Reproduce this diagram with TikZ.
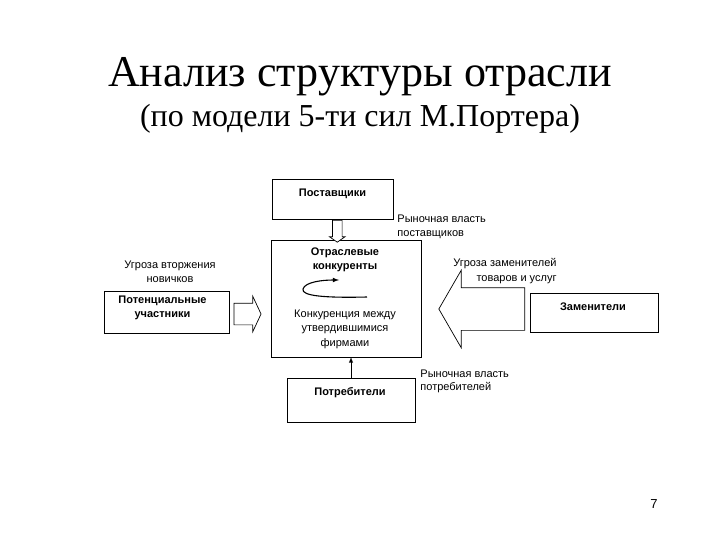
\documentclass[tikz,border=0pt]{standalone}
\usepackage{fontspec}
\setmainfont{Liberation Serif}
\setsansfont{Liberation Sans}
\usetikzlibrary{arrows,shapes.arrows,calc}
\newcommand\diagfont{\sffamily\fontsize{11}{14.5}\selectfont}

\begin{document}
\begin{tikzpicture}[x=1pt,y=-1pt,>=latex,line width=0.9pt,font=\diagfont,
        box/.style={draw=black, anchor=north west, inner sep=0pt, outer sep=0pt},
        hollow/.style={draw=black, single arrow, fill=white, outer sep=0pt, line width=0.7pt},
        txt/.style={inner sep=0pt, anchor=north, align=center},
        boldtxt/.style={txt, font=\diagfont\bfseries}]
        \useasboundingbox (0,0) rectangle (720,540);
        \node[anchor=base, font=\rmfamily\fontsize{44}{48}\selectfont] (title) at (360,87) {Анализ структуры отрасли};
        \node[anchor=base, font=\rmfamily\fontsize{32}{36}\selectfont] (subtitle) at (360,127) {(по модели 5-ти сил М.Портера)};
        % boxes
        \node[box, minimum width=121pt, minimum height=40pt] (supp) at (272,179) {};
        \node[box, minimum width=150pt, minimum height=117pt] (comp) at (271,240) {};
        \node[box, minimum width=125pt, minimum height=42pt] (pot) at (104,291) {};
        \node[box, minimum width=128pt, minimum height=39pt] (subst) at (530,293) {};
        \node[box, minimum width=128pt, minimum height=44pt] (cons) at (287,378) {};
        % texts
        \node[boldtxt] (supptext) at ($(supp.north)+(0,9)$) {Поставщики};
        \node[boldtxt] (comptext) at ($(comp.north)+(-1,7)$) {Отраслевые\\конкуренты};
        \node[txt] (rivalry) at ($(comp.south)+(-1,-48)$) {Конкуренция между\\утвердившимися\\фирмами};
        \node[boldtxt] (pottext) at ($(pot.north)+(-4,4)$) {Потенциальные\\участники};
        \node[txt] (entry) at ($(pot.north)+(3.5,-31)$) {Угроза вторжения\\новичков};
        \node[boldtxt] (substtext) at ($(subst.north)+(-1,9)$) {Заменители};
        \node[boldtxt] (constext) at ($(cons.north)+(-1,9)$) {Потребители};
        \node[txt, anchor=north west, align=left] (suppower) at ($(supp.south east)+(4,-5)$) {Рыночная власть\\поставщиков};
        \node[txt, anchor=north east, align=right] (threat) at ($(subst.north west)+(27,-35)$) {Угроза заменителей\\товаров и услуг};
        \node[txt, anchor=north west, align=left, font=\sffamily\fontsize{11}{13.5}\selectfont] (conspower) at ($(cons.north east)+(5,-9)$) {Рыночная власть\\потребителей};
        \node[anchor=base, inner sep=0pt, font=\sffamily\fontsize{13}{15}\selectfont] (page) at (654,508) {7};
        % block arrows
        \node[hollow, shape border rotate=270, inner sep=4.5pt, minimum height=22pt, minimum width=14pt,
              single arrow head extend=3pt, single arrow tip angle=110] (arrsupp) at ($(supp.south)!.5!(comp.north)+(-2,0)$) {};
        \node[hollow, inner sep=10.5pt, minimum height=27pt, minimum width=35pt,
              single arrow head extend=7pt, single arrow tip angle=130] (arrpot) at ($(pot.east)+(16,2)$) {};
        \node[hollow, shape border rotate=180, inner sep=21pt, minimum height=86pt, minimum width=77pt,
              single arrow head extend=17.5pt, single arrow tip angle=120] (arrsubst) at ($(comp.east)!.5!(subst.west)+(12.5,3.5)$) {};
        \draw[->] (cons.north) -- (cons.north |- comp.south);
        % rivalry loop
        \coordinate (loopa) at (367,297);
        \coordinate (loopb) at (339,280);
        \draw[->, line width=1.1pt] (loopa) .. controls (325,298) and (301,296) .. (303,289) .. controls (305,282) and (322,280) .. (loopb);
\end{tikzpicture}
\end{document}
